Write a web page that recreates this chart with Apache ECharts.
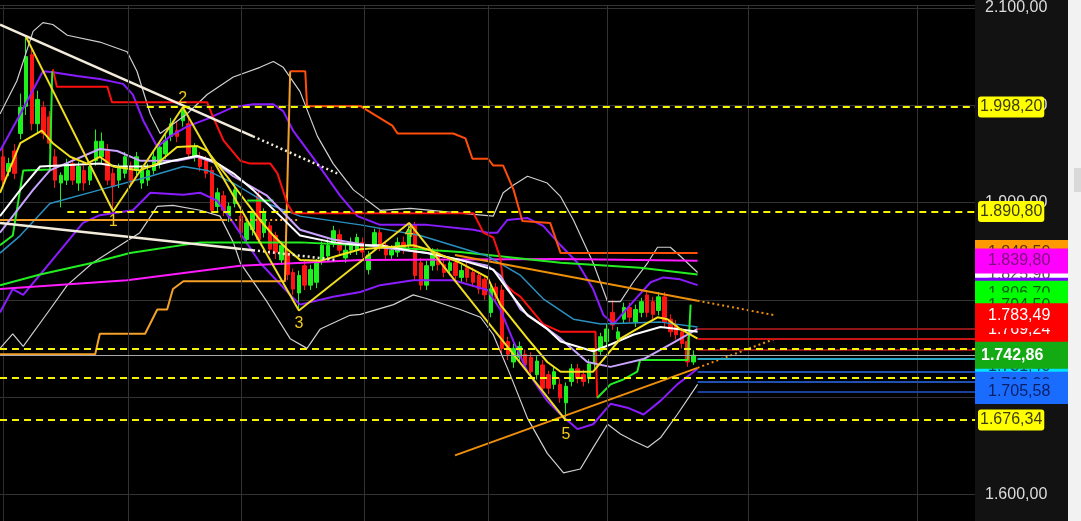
<!DOCTYPE html>
<html><head><meta charset="utf-8">
<script src="https://cdn.jsdelivr.net/npm/echarts@6/dist/echarts.min.js"></script>
<style>html,body{margin:0;padding:0;background:#000;overflow:hidden}#c{width:1081px;height:521px}</style>
</head><body><div id="c"></div><script>
const N = 168; // number of bar slots on the time axis
const categories = Array.from({length: N}, (_, i) => String(i + 1));
// [open, close, low, high]
const candles = [
[1947,1923,1915,1958],[1932,1940,1927,1946],[1953,1930,1924,1960],[1971,1998,1965,2012],[1999,2050,1990,2070],
[2052,1981,1974,2060],[1981,2006,1972,2015],[1998,1971,1965,2004],[1988,1961,1955,1994],[1947,1923,1915,1955],
[1920,1928,1895,1931],[1923,1940,1918,1945],[1940,1923,1918,1946],[1920,1937,1912,1942],[1933,1920,1912,1938],
[1923,1937,1918,1942],[1943,1963,1938,1975],[1947,1963,1940,1972],[1953,1923,1918,1960],[1930,1917,1891,1935],
[1923,1937,1915,1940],[1930,1947,1925,1952],[1937,1923,1918,1942],[1933,1947,1928,1952],[1920,1933,1914,1938],
[1923,1933,1917,1940],[1933,1947,1929,1952],[1940,1957,1935,1962],[1950,1964,1945,1970],[1968,1981,1963,1987],
[1974,1968,1962,1983],[1984,1996,1978,1998],[1981,1950,1945,1990],[1947,1957,1942,1961],[1947,1937,1932,1952],
[1943,1930,1925,1948],[1933,1892,1888,1937],[1896,1910,1890,1915],[1907,1892,1886,1912],[1886,1896,1880,1900],
[1899,1913,1895,1920],[1886,1869,1864,1892],[1862,1879,1857,1884],[1872,1889,1866,1893],[1907,1862,1858,1912],
[1869,1889,1864,1894],[1876,1852,1846,1880],[1866,1849,1842,1870],[1841,1856,1836,1860],[1848,1826,1820,1852],
[1828,1811,1805,1832],[1807,1825,1789,1830],[1835,1815,1810,1840],[1815,1831,1810,1836],[1818,1838,1812,1842],
[1841,1856,1836,1860],[1845,1856,1840,1862],[1859,1871,1854,1876],[1867,1851,1846,1872],[1843,1851,1838,1857],
[1851,1859,1846,1864],[1851,1864,1846,1868],[1859,1849,1843,1864],[1831,1846,1826,1850],[1856,1869,1850,1873],
[1869,1856,1850,1874],[1856,1846,1840,1860],[1846,1851,1842,1856],[1849,1859,1844,1864],[1859,1852,1847,1865],
[1856,1872,1850,1879],[1876,1825,1820,1880],[1838,1815,1810,1843],[1815,1835,1810,1840],[1835,1848,1830,1853],
[1848,1836,1830,1853],[1836,1828,1823,1841],[1830,1838,1825,1843],[1838,1825,1820,1842],[1823,1830,1818,1836],
[1833,1823,1818,1838],[1828,1818,1813,1833],[1825,1811,1806,1829],[1821,1805,1800,1825],[1787,1811,1782,1815],
[1813,1803,1797,1817],[1810,1750,1745,1815],[1757,1744,1738,1762],[1736,1750,1730,1755],[1741,1752,1736,1757],
[1744,1733,1728,1749],[1741,1726,1720,1746],[1723,1737,1718,1742],[1733,1709,1704,1738],[1723,1709,1703,1727],
[1713,1726,1708,1731],[1713,1699,1694,1720],[1694,1711,1676,1715],[1716,1729,1711,1734],[1729,1719,1714,1734],
[1723,1716,1711,1728],[1719,1734,1714,1739],[1734,1746,1729,1750],[1747,1762,1742,1766],[1757,1770,1752,1775],
[1787,1774,1769,1800],[1760,1767,1755,1772],[1780,1792,1775,1797],[1792,1782,1777,1797],[1777,1790,1772,1795],
[1787,1798,1782,1802],[1805,1787,1782,1810],[1798,1785,1780,1803],[1789,1803,1784,1808],[1803,1777,1772,1808],
[1780,1767,1762,1785],[1774,1764,1759,1779],[1767,1755,1750,1771],[1757,1736,1731,1762],[1736,1743,1733,1748]
];
// indicator lines: [bar index, price]
const bbUpper = [[-0.5,1991],[2.4,2025],[5.2,2076],[6.9,2085],[8.6,2083],[11.1,2072],[16.7,2065],[21.4,2055],[23.1,2035],[25.4,1991],[27.1,1971],[31.7,1991],[35.2,2011],[39.7,2029],[44.3,2039],[46.6,2045],[48.3,2039],[51.2,2014],[54.2,1968],[56.9,1940],[60.4,1913],[65.0,1892],[70.2,1894],[78.8,1889],[84.5,1886],[86.2,1910],[88.0,1918],[90.4,1927],[93.8,1920],[96.1,1906],[98.3,1882],[101.7,1838],[104.2,1798],[106.4,1798],[108.6,1818],[111.1,1838],[112.8,1854],[115.0,1854],[116.7,1845],[119.7,1828]];
const bbLower = [[-0.5,1750],[1.7,1765],[3.5,1752],[8.1,1790],[11.1,1815],[15.5,1838],[23.6,1869],[26.6,1896],[29.3,1897],[34.0,1892],[37.4,1886],[39.7,1859],[40.9,1838],[45.5,1798],[49.5,1760],[52.4,1750],[54.7,1770],[59.8,1784],[61.6,1785],[67.3,1795],[70.7,1805],[73.1,1801],[78.8,1790],[82.3,1782],[84.5,1764],[87.4,1723],[90.4,1678],[93.8,1642],[96.6,1622],[99.5,1626],[101.7,1648],[104.2,1672],[106.4,1662],[108.6,1655],[111.1,1648],[113.3,1658],[116.2,1682],[119.7,1713]];
const kcUpper = [[-0.5,1953],[3.0,1991],[6.9,2035],[8.6,2034],[12.8,2030],[16.7,2027],[20.7,2022],[22.4,2011],[24.2,1984],[26.6,1957],[28.8,1968],[31.7,1978],[35.2,1986],[39.7,1998],[43.1,2001],[46.6,2001],[48.3,1994],[50.0,1974],[54.2,1940],[58.1,1907],[61.1,1886],[65.0,1877],[73.1,1877],[81.1,1872],[83.5,1869],[85.2,1869],[86.9,1882],[90.4,1884],[93.1,1876],[96.1,1856],[99.0,1838],[101.7,1811],[103.5,1784],[105.2,1775],[108.6,1798],[111.6,1818],[113.8,1823],[116.7,1821],[119.7,1815]];
const kcLower = [[-0.5,1787],[1.7,1811],[3.5,1805],[8.1,1838],[13.8,1879],[16.7,1887],[22.4,1892],[25.4,1910],[31.1,1908],[34.0,1910],[36.9,1902],[39.7,1879],[44.3,1838],[49.5,1805],[51.2,1795],[56.9,1803],[61.6,1808],[65.0,1815],[70.7,1820],[77.6,1820],[83.5,1810],[85.7,1790],[88.0,1757],[90.4,1726],[93.8,1696],[96.1,1682],[99.0,1667],[101.7,1672],[104.7,1693],[107.6,1689],[110.4,1682],[113.3,1696],[116.2,1713],[119.7,1729]];
const maYellow = [[-0.5,1910],[3.0,1961],[6.7,1974],[8.6,1961],[11.6,1947],[14.5,1940],[16.7,1947],[19.0,1937],[23.6,1933],[26.6,1940],[30.0,1957],[33.5,1958],[35.2,1953],[38.6,1927],[42.1,1899],[44.3,1882],[46.6,1866],[49.0,1852],[51.2,1841],[54.7,1840],[58.1,1846],[61.6,1852],[70.7,1856],[73.1,1852],[78.8,1838],[83.5,1823],[85.7,1795],[90.4,1760],[93.8,1736],[96.1,1726],[101.7,1726],[103.5,1739],[106.4,1760],[110.4,1774],[112.8,1782],[114.5,1780],[116.7,1770],[119.7,1760]];
const maWhite = [[-0.5,1886],[3.0,1913],[6.4,1937],[9.8,1938],[16.7,1940],[19.7,1937],[25.4,1937],[29.3,1943],[33.5,1948],[36.2,1943],[39.7,1930],[43.1,1913],[47.8,1886],[51.2,1866],[56.9,1859],[61.6,1856],[65.0,1856],[70.7,1850],[73.1,1848],[78.8,1841],[84.5,1831],[86.9,1811],[90.4,1784],[93.8,1770],[96.1,1757],[101.7,1747],[104.7,1754],[108.6,1764],[113.3,1772],[116.2,1770],[119.7,1767]];
const maLavender = [[-0.5,1869],[5.2,1913],[8.1,1933],[16.7,1955],[19.7,1953],[23.6,1943],[30.0,1943],[33.5,1947],[36.9,1940],[39.7,1927],[45.5,1907],[51.2,1872],[56.9,1862],[65.0,1854],[73.1,1848],[83.5,1835],[85.7,1825],[89.2,1790],[93.8,1770],[96.1,1760],[100.7,1736],[104.7,1731],[110.4,1739],[115.0,1754],[119.7,1770]];
const maTeal = [[-0.5,1848],[3.0,1866],[8.1,1899],[16.7,1913],[25.4,1927],[31.1,1937],[35.2,1933],[39.7,1920],[45.5,1899],[51.2,1886],[61.6,1877],[71.9,1866],[83.5,1845],[89.2,1825],[93.1,1801],[98.3,1780],[103.0,1775],[113.3,1777],[119.7,1772]];
const maGreen = [[-0.5,1815],[6.4,1826],[15.5,1838],[21.9,1848],[34.0,1859],[51.2,1859],[61.6,1856],[78.8,1849],[96.1,1838],[109.8,1833],[119.7,1826]];
const maMagenta = [[-0.5,1811],[21.4,1820],[40.9,1835],[61.6,1841],[96.1,1842],[119.7,1840]];
const stopRed = [[8.6,2037],[9.3,2019],[18.0,2019],[18.8,2003],[35.2,2003],[36.2,1988],[38.0,1964],[40.9,1943],[42.6,1940],[46.1,1940],[47.3,1930],[49.0,1899],[50.0,1889],[81.1,1889],[82.8,1869],[84.5,1864],[85.7,1843],[86.2,1818],[88.0,1808],[89.2,1803],[93.1,1775],[96.1,1767],[102.1,1767],[102.4,1699]];
const stopGreenA = [[-0.5,1856],[1.7,1866],[3.5,1933],[8.1,1934],[8.5,2035]];
const stopGreenB = [[102.4,1699],[104.7,1713],[106.9,1718],[109.3,1726],[109.8,1738],[118.0,1738],[118.5,1795]];
const greenSeg = [[42.1,1902],[46.6,1902]];
const stopOrange = [[-0.5,1744],[15.9,1744],[16.7,1765],[24.5,1765],[26.6,1790],[28.3,1790],[29.3,1811],[31.1,1819],[48.6,1819],[49.5,2035]];
const stopOrangeRed = [[49.5,2035],[52.1,2035],[52.4,1999],[61.6,1999],[67.1,1979],[68.0,1971],[77.6,1971],[79.7,1966],[80.9,1945],[83.6,1945],[84.5,1938],[86.2,1938],[88.0,1913],[89.5,1881],[94.3,1879],[96.1,1848],[119.7,1848]];
const supportSolid = [[-0.5,1882],[38.3,1882]];
const supportDotted = [[38.3,1882],[51.2,1882]];
const trendWhiteUp = [[-0.5,2083],[43.1,1968]];
const trendWhiteUpExt = [[43.1,1968],[57.6,1930]];
const trendWhiteLow = [[-0.5,1879],[43.1,1851]];
const trendWhiteLowExt = [[43.1,1851],[57.3,1841]];
const trendOrangeUp = [[77.9,1846],[119.7,1799]];
const trendOrangeUpExt = [[119.7,1799],[133.1,1784]];
const trendOrangeLow = [[77.9,1640],[119.7,1730]];
const trendOrangeLowExt = [[119.7,1730],[133.1,1760]];
const zigzag = [[4,2070],[19,1891],[31,1998],[51,1789],[70,1879],[97,1676]];
const waveLabels = ['', '1', '2', '3', '4', '5'];
const levelValues = [1998.20, 1890.80, 1749.70, 1720.10, 1676.34];
const levelStart = [24.8, 11.1, -0.5, -0.5, -0.5];
const levelTagged = [true, true, false, false, true];
const extValues = [1770.0, 1759.9, 1748.5, 1739.5, 1726.3, 1716.1, 1705.9];
const lastPrice = 1742.86;
const lastBar = 119.7;
const tagValues = [1848.50, 1825.96, 1839.80, 1809.80, 1806.70, 1794.50, 1769.24, 1783.49, 1731.40, 1742.86, 1713.00, 1705.58];
const dateGrid = [21.6, 41.05, 62.3, 83.6, 104.2, 128.5, 157.6];

const fmt = v => { const s = v.toFixed(2).split('.'); return s[0].replace(/\B(?=(\d{3})+(?!\d))/g, '.') + ',' + s[1]; };
const XMAX = N - 0.5;

function ln(data, color, width, type, z) {
  return {type: 'line', xAxisIndex: 1, data, showSymbol: false, symbol: 'none', silent: true, z: z || 3,
    lineStyle: {color, width, type: type || 'solid'}};
}
const series = [];
series.push({type: 'line', xAxisIndex: 1, data: [], z: 1, silent: true,
  markLine: {silent: true, symbol: 'none', animation: false, label: {show: false},
    lineStyle: {color: '#333', width: 1, type: 'solid'}, data: dateGrid.map(x => ({xAxis: x}))}});
series.push({type: 'candlestick', xAxisIndex: 0, data: candles, barWidth: 4, z: 2, silent: true,
  itemStyle: {color: '#1ef01e', color0: '#ff1414', borderColor: '#1ef01e', borderColor0: '#ff1414', borderWidth: 1}});
// price line
series.push({type: 'line', xAxisIndex: 1, data: [], z: 2, silent: true,
  markLine: {silent: true, symbol: 'none', animation: false, label: {show: false},
    lineStyle: {color: '#a8a8a8', width: 1, type: 'solid'}, data: [[{coord: [-0.5, lastPrice]}, {coord: [XMAX, lastPrice]}]]}});
// extension lines
const extColors = ['#8e1616', '#c81414', '#8e1616', '#2aa8c8', '#2050b0', '#2050b0', '#1c3f9a'];
extValues.forEach((v, k) => series.push({type: 'line', xAxisIndex: 1, data: [], z: 3, silent: true,
  markLine: {silent: true, symbol: 'none', animation: false, label: {show: false},
    lineStyle: {color: extColors[k], width: 2, type: 'solid'}, data: [[{coord: [lastBar, v]}, {coord: [XMAX, v]}]]}}));
series.push(ln(bbUpper, '#cfcfcf', 1.2));
series.push(ln(bbLower, '#cfcfcf', 1.2));
series.push(ln(kcUpper, '#8a1cff', 2));
series.push(ln(kcLower, '#8a1cff', 2));
series.push(ln(maMagenta, '#ff1aff', 2));
series.push(ln(maGreen, '#22ee22', 2));
series.push(ln(maTeal, '#2a90bf', 1.5));
series.push(ln(stopOrange, '#f5a028', 2));
series.push(ln(stopOrangeRed, '#ff4d0a', 2));
series.push(ln(supportSolid, '#f5a028', 2));
series.push(ln(supportDotted, '#f5a028', 2, [2, 3]));
series.push(ln(stopRed, '#ff1010', 2));
series.push(ln(stopGreenA, '#22ee22', 2));
series.push(ln(stopGreenB, '#22ee22', 2));
series.push(ln(greenSeg, '#22ee22', 2));
series.push(ln(maLavender, '#c9a4ff', 2));
series.push(ln(maWhite, '#ffffff', 2));
series.push(ln(maYellow, '#f2e21a', 2));
series.push(ln(trendWhiteUp, '#f3ecdc', 2.5, 'solid', 4));
series.push(ln(trendWhiteUpExt, '#f3ecdc', 2.5, [2, 3], 4));
series.push(ln(trendWhiteLow, '#f3ecdc', 2.5, 'solid', 4));
series.push(ln(trendWhiteLowExt, '#f3ecdc', 2.5, [2, 3], 4));
series.push(ln(trendOrangeUp, '#f0900a', 2, 'solid', 4));
series.push(ln(trendOrangeUpExt, '#f0900a', 2, [2, 3], 4));
series.push(ln(trendOrangeLow, '#f0900a', 2, 'solid', 4));
series.push(ln(trendOrangeLowExt, '#f0900a', 2, [2, 3], 4));
// zigzag with wave numbers
const wavePos = ['', 'bottom', 'top', 'bottom', 'bottom', 'bottom'];
const waveDist = [0, 1, 0, 4, 1, 5];
const zz = ln(zigzag, '#eedc1e', 2, 'solid', 4);
zz.markPoint = {silent: true, animation: false, symbol: 'circle', symbolSize: 2, itemStyle: {color: 'rgba(0,0,0,0)'},
  data: zigzag.slice(1).map((p, k) => ({coord: p, value: waveLabels[k + 1],
    label: {show: true, position: wavePos[k + 1], distance: waveDist[k + 1], formatter: waveLabels[k + 1],
      color: '#f2c81c', fontSize: 16, fontFamily: 'Arial'}}))};
series.push(zz);
// yellow levels
levelValues.forEach((v, k) => series.push({type: 'line', xAxisIndex: 1, data: [], z: 6, silent: true, clip: false,
  markLine: {silent: true, symbol: 'none', animation: false,
    lineStyle: {color: '#f5f500', width: 2, type: [7, 5]},
    label: {show: levelTagged[k], position: 'end', distance: 3, formatter: fmt(v), backgroundColor: '#ffff00',
      color: '#3c3c10', fontSize: 16, fontFamily: 'Arial', padding: [4, 2, 1, 2], borderRadius: 3, lineHeight: 16},
    data: [[{coord: [levelStart[k], v]}, {coord: [XMAX, v]}]]}}));
// price tags on the axis
const tagBg = ['#ff9900', '#ffffff', '#ff00ff', '#8000ff', '#00ff00', '#00ff00', '#ff0000', '#ff0000', '#00e0ff', '#13aa13', '#1a6cff', '#1a6cff'];
const tagFg = ['#5a3000', '#555555', '#7a127a', '#ffffff', '#0a5a0a', '#0a5a0a', '#ffffff', '#ffffff', '#004466', '#ffffff', '#0a1f66', '#0a1f66'];
tagValues.forEach((v, k) => {
  const big = v === lastPrice;
  series.push({type: 'line', xAxisIndex: 1, data: [], z: 10 + k, silent: true, clip: false,
    markLine: {silent: true, symbol: 'none', animation: false, z: 10 + k,
      lineStyle: {color: 'rgba(0,0,0,0)', width: 0},
      label: {show: true, position: 'end', distance: 0, formatter: fmt(v), backgroundColor: tagBg[k], color: tagFg[k],
        fontSize: 16, fontWeight: big ? 'bold' : 'normal', fontFamily: 'Arial',
        padding: big ? [5, 6, 4, 6] : [4, 4, 3, 13], width: big ? 81 : 76, lineHeight: 18},
      data: [[{coord: [XMAX - 1, v]}, {coord: [XMAX, v]}]]}});
});

const chart = echarts.init(document.getElementById('c'), null, {renderer: 'canvas'});
chart.setOption({
  animation: false,
  backgroundColor: '#000',
  grid: {left: 0, right: 106, top: 0, bottom: 0, containLabel: false},
  graphic: [
    {type: 'rect', left: 975, top: 0, shape: {width: 93, height: 521}, style: {fill: '#121212'}, z: -10, silent: true},
    {type: 'rect', left: 1068, top: 0, shape: {width: 13, height: 521}, style: {fill: '#f2f2f2'}, z: -10, silent: true},
    {type: 'rect', left: 1074, top: 168, shape: {width: 7, height: 24}, style: {fill: '#d9d9d9'}, z: -9, silent: true}
  ],
  xAxis: [
    {type: 'category', data: categories, show: false, boundaryGap: true},
    {type: 'value', min: -0.5, max: XMAX, show: false}
  ],
  yAxis: {type: 'value', position: 'right', min: 1572.5, max: 2103.05, scale: true,
    axisLine: {show: true, lineStyle: {color: '#2c2c2c'}}, axisTick: {show: false},
    splitLine: {show: true, lineStyle: {color: '#333', width: 1}},
    axisLabel: {color: '#dcdcdc', fontSize: 16, fontFamily: 'Arial', margin: 10,
      formatter: v => (Math.abs(v / 100 - Math.round(v / 100)) < 1e-6 ? fmt(v) : '')}},
  series
});
</script></body></html>
